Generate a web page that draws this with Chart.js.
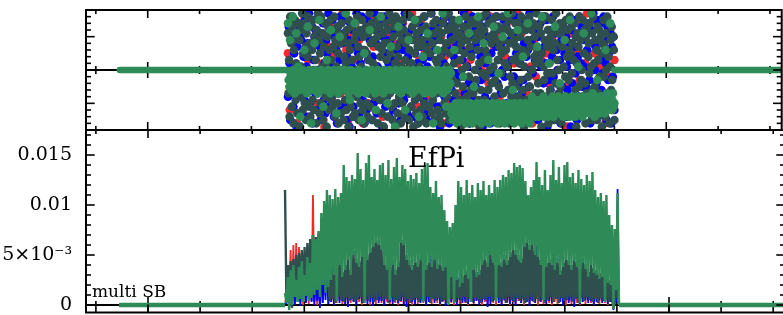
<!DOCTYPE html>
<html>
<head>
<meta charset="utf-8">
<script src="https://cdn.jsdelivr.net/npm/chart.js@4.4.0/dist/chart.umd.min.js"></script>
<style>
  html, body { margin: 0; padding: 0; background: #fff; overflow: hidden; width: 783px; height: 315px; }
  canvas { position: absolute; left: 0; top: 0; }
  .lbl { position: absolute; font-family: "DejaVu Serif", serif; color: #000; white-space: nowrap; line-height: 1; }
</style>
</head>
<body>
<canvas id="phase" width="786" height="315"></canvas>
<canvas id="power" width="786" height="315"></canvas>
<div class="lbl" style="left:408px;top:144px;font-size:27px">EfPi</div>
<div class="lbl" style="left:92px;top:283px;font-size:17px">multi SB</div>
<script>
// time axis (no labels drawn) and tick positions
var xMajorTicks = [1, 2, 3];
var xMinorTicks = [0.8, 1.2, 1.4, 1.6, 1.8, 2.2, 2.4, 2.6, 2.8, 3.2, 3.4];
var topMajorTicks = [-10, 0, 10];
var topMinorTicks = [-16, -14, -12, -8, -6, -4, -2, 2, 4, 6, 8, 12, 14, 16];
var bottomMajorTicks = [0, 50, 100, 150];
var bottomTickLabels = ["0", "5×10⁻³", "0.01", "0.015"];
var bottomMinorTicks = [10, 20, 30, 40, 60, 70, 80, 90, 110, 120, 130, 140, 160, 170];

// flat (idle) parts of the green trace, start/end times
var topFlatA = [0.8925, 1.541], topFlatB = [2.8, 3.5];
var botFlatA = [0.889, 1.526], botFlatB = [2.808, 3.5];
// span of the active samples
var topSpan = [1.541, 2.8];
var botSpan = [1.526, 2.808];

// top panel: phase, tenths
var topRed = [5,-12,14,-3,9,-16,1,11,-8,16,-5,3,-14,7,-1,12,-10,15,-6,2,
-17,8,-2,13,-9,4,-13,10,0,-7,17,-4,6,-15,11,-11,3,14,-6,9,
-1,-16,12,5,-10,15,-3,7,-12,1,16,-8,-14,4,10,-5,13,-2,8,-17,
6,-9,2,14,-13,11,-7,0,17,-4,9,-11,3,15,-15,5,-1,12,-8,7,
-6,13,-12,1,10,-16,4,16,-3,-10,8,-14,14,2,-7,11,-2,6,-13,17,
3,-5,15,-9,9,-17,0,12,-11,5,-4,16,-15,7,13,-1,-8,10,-12,4,
14,-6,-14,8,2,-10,17,-3,11,-13,6,-7,15,1,-16,9,-2,12,-9,3,
-11,16,5,-4,-15,10,-8,13,0,-12,7,14,-5,-17,4,11,-1,-9,15,6,
-3,9,-13,2,17,-7,12,-14,5,-10,14,1,-6,8,-16,10,-2,13,-11,3];

var topBlue = [-8,13,2,-15,10,-4,16,-11,5,-1,12,-17,7,-6,14,0,-13,9,-3,11,
4,-9,15,-14,1,8,-5,17,-10,6,-2,13,-16,3,10,-7,12,-12,0,16,
-4,7,-15,11,-1,14,-9,2,-13,9,5,-6,17,-11,-3,12,-8,15,1,-14,
10,-2,6,-16,13,-7,3,16,-12,8,-5,0,11,-10,15,-15,4,-3,9,-17,
14,-6,1,12,-11,7,-14,-1,17,-8,5,10,-13,2,-4,16,-9,6,-16,11,
0,-12,15,3,-7,9,-2,13,-15,4,-10,17,-5,8,-13,1,12,-6,14,-9,
7,-17,10,-3,16,-11,5,-8,12,2,-14,9,-1,15,-6,-12,3,11,-16,6,
-5,13,-10,1,8,-15,14,-4,6,-9,17,-2,10,-13,4,-7,16,0,-11,12,
9,-1,-14,5,15,-8,2,-16,11,-5,7,-12,13,3,-9,16,-3,8,-15,1,
-13,10,4,-6,17,-10,12,-2,-15,6,9,-4,14,-11,1,-17,11,5,-7,15,
2,-8,16,-12,7,-3,13,-16,0,10,-6,15,-9,4,12,-14,8,-1,-10,14,
-2,11,-15,6,3,-11,17,-7,9,-13,1,14,-4,-16,10,5,-8,16,-12,7,
12,-5,8,-14,0,15,-10,4,-3,13,-17,6,11,-8,2,-12,16,-6,9,-1,
-16,5,14,-9,10,-1,-13,7,16,-4,3,-15,12,-7,8,0,-11,15,-2,6,
13,-10,1,17,-6,9,-14,3,11,-12,-2,16,-8,5,-15,10,-4,14,2,-9,
-7,15,-3,8,-16,12,4,-11,6,-5,17,-13,0,9,-1,13,-10,3,-14,11,
5,-15,10,-8,14,1,-12,16,-4,7,-9,2,15,-17,8,-3,12,-6,-11,4,
16,-2,-9,11,-13,6,0,13,-7,3,-16,9,-5,14,-10,5,-14,10,1,-6,
-12,8,3,-17,12,-4,15,-10,7,-1,10,-15,4,-8,16,-11,2,13,-5,9,
1,-13,11,-5,6,-9,14,-3,-16,12,-7,8,17,-12,0,7,-4,15,-14,3,
-10,14,-6,4,-1,16,-11,9,2,-15,13,-3,5,-8,11,-16,7,-2,10,-12];

var topSlate = [11,-7,3,-14,16,-2,8,-11,13,0,-16,6,-5,15,-9,2,10,-13,-1,14,
-4,9,-17,12,1,-8,17,-12,5,-3,14,-10,7,-15,11,-6,4,16,-1,-11,
8,-14,13,-2,6,-9,15,0,-12,10,-5,3,-16,12,-7,17,-3,9,-13,5,
-10,16,-6,1,11,-15,7,-4,14,-8,2,-17,10,-1,13,-12,6,-5,15,-9,
3,12,-11,7,-3,16,-14,9,-7,1,13,-10,5,-16,11,-2,8,-13,14,0,
-6,10,-15,4,17,-9,2,-12,12,-4,8,-17,15,-1,6,-11,13,-7,3,-14,
14,-3,9,-13,0,11,-8,16,-5,7,-15,4,12,-10,1,-6,15,-12,10,-2,
-16,6,-1,13,-10,5,-14,11,3,-7,17,-11,8,-4,14,-15,2,9,-8,12,
1,-12,15,-5,10,-16,7,-2,13,-9,4,16,-13,6,-3,11,-17,8,-6,14,
-9,3,12,-14,8,-1,17,-7,5,-11,15,0,-15,10,-4,13,-10,2,16,-5,
7,-13,4,14,-8,11,-2,-16,9,1,-10,15,-6,12,-14,3,8,-12,17,-3,
-1,10,-15,6,-7,16,-11,2,13,-4,-17,9,5,-9,14,-13,11,-2,7,-16,
15,-8,1,-12,12,-5,9,-14,4,16,-10,7,-3,13,-16,6,0,-11,10,-6,
-11,5,17,-4,-13,8,-9,14,-1,11,-15,3,15,-7,2,-12,12,-3,-14,9,
4,-16,11,-6,14,-2,6,-10,16,-13,8,1,-8,12,-5,17,-15,5,-1,13,
-14,9,-3,15,-11,2,12,-7,-15,10,-4,14,-12,6,11,-9,3,-17,8,0,
10,-5,13,-15,5,-10,16,1,-8,9,-13,12,-2,-16,7,14,-6,4,-11,15,
-7,14,-12,0,9,-3,11,-14,6,15,-9,2,-17,13,-6,10,-1,16,-10,3,
12,-9,6,-2,17,-12,4,-6,14,-11,0,10,-14,8,-4,15,-13,1,11,-8,
-3,16,-10,9,-15,3,13,-5,7,-16,12,-1,5,-12,16,-7,9,-15,2,13,
6,-11,1,12,-6,15,-16,8,-2,11,-8,17,-4,3,-13,9,-10,14,-5,7,
-15,4,14,-8,2,-13,10,-3,16,-10,6,-6,13,-17,1,12,-9,5,15,-12,
9,-2,-11,16,-5,7,-15,12,0,-9,14,-14,4,10,-7,2,17,-11,6,-4,
-12,13,3,-7,11,-17,5,15,-10,1,-3,9,-13,16,-8,7,-1,12,-16,8,
2,-6,10,-13,15,-1,-9,6,12,-15,8,-4,17,-10,3,-14,11,0,-7,14,
-5,11,-16,7,-10,13,1,-12,9,-2,15,-8,4,-14,12,-3,6,16,-13,5,
13,-1,8,-9,3,-14,14,-6,10,-17,2,11,-11,7,-5,16,-12,9,-3,0,
-8,15,-13,5,12,-4,-16,10,-7,13,-12,4,8,-1,14,-10,1,-15,11,-6,
16,-10,2,-5,9,-12,6,-15,13,3,-7,12,-2,-13,10,5,-17,8,-9,15,
-2,7,-14,11,0,-8,16,-11,4,14,-16,1,9,-6,13,-3,-12,10,6,-15];

var topGreen = [14,-3,-5,9,-1,-6,-2,16,0,-4,-7,-2,11,-3,-5,1,-1,-6,-14,-3,
-2,-5,0,-4,6,-6,-1,-3,-7,13,-2,0,-5,-3,-16,-1,-4,-6,-2,8,
0,-3,-5,-1,-7,-4,15,-2,-6,0,-3,-5,-11,-1,-4,-2,-6,3,-3,0,
-5,-1,-7,12,-2,-4,-6,0,-3,-5,-1,-13,-4,-2,-7,0,10,-3,-6,-1,
-4,-2,-5,0,-3,17,-6,-1,-4,-7,-2,-9,0,-5,-3,-1,-6,-2,14,-4,
-1,-5,-3,-7,0,-2,-6,-4,-15,-1,-3,-5,5,-2,-7,0,-4,-6,-1,-3,
12,-5,-2,0,-4,-6,-1,-3,-7,-12,-2,-5,0,-4,-1,-6,16,-3,-5,-2,
-7,0,-4,-1,-6,-3,-10,-5,-2,0,-4,7,-6,-1,-3,-5,-2,-17,0,-4,
-6,-1,13,-3,-5,-2,-7,0,-4,-1,-6,-3,-12,-5,-2,0,-4,9,-6,-1,
-3,-5,-2,-7,0,-4,15,-1,-6,-3,-5,-2,-14,0,-4,-1,-6,-3,4,-5,
-2,-7,0,-4,-1,11,-6,-3,-5,-2,0,-4,-7,-16,-1,-3,-5,-6,-2,6,
0,-4,-1,-3,-6,-5,-2,17,-7,0,-4,-1,-11,-3,-6,-2,-5,0,-4,-1,
-13,-11,-15,-12,6,-14,-10,-13,-16,-11,-12,15,-14,-10,-13,-15,-11,-2,-12,-14,
-10,-16,-13,-11,-12,-15,11,-14,-10,-13,-11,-16,-12,-5,-14,-11,-13,-10,-15,16,
-12,-14,-11,-13,-16,-10,-12,8,-15,-13,-11,-14,-10,-12,3,-16,-13,-11,-14,-12,
-10,-15,13,-13,-11,-12,-14,-16,-10,-1,-13,-11,-15,-12,-14,10,-10,-13,-16,-11,
-12,-14,-11,17,-13,-10,-15,-12,-11,-14,-6,-13,-16,-10,-12,-11,-15,12,-13,-14,
-11,-10,-12,-16,-13,4,-14,-11,-15,-10,-12,-13,14,-11,-14,-16,-10,-12,-8,-13,
-11,-13,-9,-14,-12,-10,7,-12,-14,-9,-11,-13,-10,16,-12,-8,-14,-11,-9,-13,
-12,-10,-14,2,-11,-9,-13,-12,-8,-10,-14,-11,13,-9,-12,-13,-10,-8,-11,-4,
-10,-13,-9,-12,-14,-11,9,-8,-12,-10,-13,-9,-11,-14,15,-10,-12,-8,-13,-11,
-9,-11,-14,-10,-8,-12,1,-13,-9,-11,-10,-12,-14,-8,11,-9,-13,-11,-10,-12,
-8,-12,-10,-13,-9,17,-11,-7,-12,-10,-14,-8,-11,-9,-3,-12,-10,-13,-8,-11,
-10,-8,-12,-9,-11,-13,6,-10,-7,-12,-9,-11,-8,14,-10,-12,-9,-7,-11,-10];

// bottom panel: power, units of 1e-4
var sbRed = [5,2,30,0,55,3,60,1,62,4,58,2,50,0,45,3,48,1,52,4,
110,3,25,0,30,4,35,2,40,98,102,1,95,3,28,0,33,2,26,4,
30,1,24,3,35,0,28,2,33,4,27,1,38,3,25,0,31,2,36,4,
28,0,34,3,26,1,39,4,30,2,25,0,37,3,29,1,33,4,27,2,
35,0,28,3,31,1,26,4,38,2,30,0,27,3,34,1,29,4,36,2,
25,0,33,3,30,1,37,4,28,2,35,0,26,3,31,1,24,4,29,2,
27,0,32,3,25,1,36,4,29,2,33,0,28,3,35,1,26,4,31,2,
34,0,27,3,30,1,38,4,25,2,32,0,29,3,36,1,28,4,33,2,
26,0,31,3,37,1,29,4,33,2,27,0,35,3,30,1,38,4,28,2,
32,0,25,3,34,1,30,4,36,2,28,0,33,3,26,1,31,4,29,2,
35,0,27,3,32,1,29,4,37,2,26,0,34,3,30,1,28,4,33,2,
30,0,26,3,28,1,32,4,25,2,27,0,22,3,20,1,50,4,18,2];

var sbBlue = [3,1,18,-2,22,4,20,0,25,3,28,-1,30,5,24,2,26,6,20,3,
22,0,30,4,18,-3,35,2,28,5,33,1,25,3,38,0,30,6,27,2,
32,4,26,1,36,-2,29,5,40,3,31,0,34,6,27,2,39,4,30,1,
35,3,28,-1,42,5,33,2,25,4,37,0,30,6,41,3,28,1,36,5,
30,2,26,4,38,0,33,-2,29,6,35,3,40,1,27,5,34,2,31,4,
36,0,28,3,58,55,32,2,37,5,30,1,35,4,28,-1,33,6,26,3,
22,4,30,0,27,5,35,2,24,3,31,1,28,6,38,2,26,4,33,0,
30,3,37,5,28,-2,34,1,40,4,29,6,35,2,31,0,38,5,27,3,
33,1,29,4,42,0,36,6,30,2,35,5,28,3,39,-1,32,4,37,2,
60,52,31,3,36,5,28,1,34,4,40,2,57,48,33,6,29,3,35,0,
30,5,38,2,27,4,34,-2,31,6,36,1,29,3,33,5,26,2,32,4,
28,0,30,3,25,5,27,2,24,4,22,1,20,3,18,-5,15,2,116,0];

var sbSlate = [115,5,40,8,44,-3,46,10,50,6,52,12,55,4,58,9,62,14,66,8,
70,12,68,15,72,10,65,20,60,15,55,18,
4,30,6,35,2,28,8,45,5,33,
3,40,7,50,4,35,6,55,3,47,
5,43,8,53,2,35,6,50,4,57,
7,63,3,67,5,65,8,60,4,45,
6,40,2,33,7,45,3,35,5,43,
4,67,8,65,3,50,6,45,2,40,
5,47,7,43,3,50,6,45,4,40,
8,47,2,43,6,50,4,41,7,45,
3,39,5,43,2,35,6,33,
6,25,3,30,7,23,
4,27,8,35,2,31,6,25,3,40,7,33,5,35,
2,45,6,50,4,43,8,55,3,47,5,40,7,45,
4,43,6,50,2,45,8,53,5,60,3,55,7,50,4,47,
6,63,2,67,5,60,8,65,3,55,6,53,4,45,7,50,2,43,5,47,
8,45,3,40,6,47,2,35,7,43,4,50,
5,45,8,40,3,49,6,43,2,35,7,47,4,41,8,33,5,45,3,37,
6,35,2,31,7,33,4,29,5,27,
3,25,6,-3,2,20,
8,4];

var sbGreen = [12,2,28,-5,35,0,40,8,25,3,38,6,44,3,30,9,48,4,42,7,
70,10,66,15,74,8,92,20,104,12,115,18,
110,25,106,30,116,4,108,40,112,28,
140,35,128,45,124,30,130,50,126,42,
152,38,136,48,125,2,142,45,150,52,
128,58,136,62,125,60,140,55,142,40,
130,35,145,5,126,40,138,30,147,38,
128,62,140,60,136,45,124,40,130,35,
126,42,132,38,122,45,136,3,140,35,
142,42,118,38,112,45,124,36,108,40,
110,34,95,38,84,0,78,28,
82,2,100,25,124,18,
118,22,110,30,125,26,112,3,120,35,108,28,122,30,
115,40,124,45,110,38,120,50,112,42,125,4,118,40,
125,38,130,45,128,40,135,48,132,55,142,50,138,45,140,42,
137,58,124,62,110,55,118,60,125,50,143,48,128,40,120,5,135,38,115,42,
130,40,145,35,125,42,138,30,122,38,140,45,
143,40,128,35,132,44,122,38,135,2,126,42,120,36,130,28,124,40,133,32,
115,30,108,26,112,28,104,3,110,22,
90,20,80,-4,76,15,
112,0];

var RED = "#ee2a2a", BLUE = "#0000ff", SLATE = "#2f4f4f", GREEN = "#2e8b57";

function spread(values, span) {
  var step = (span[1] - span[0]) / (values.length - 1);
  return values.map(function (v, i) { return { x: span[0] + i * step, y: v }; });
}
function flat(span) {
  return [{ x: span[0], y: 0 }, { x: span[1], y: 0 }];
}
function seg(ctx, x1, y1, x2, y2) {
  ctx.beginPath(); ctx.moveTo(x1, y1); ctx.lineTo(x2, y2); ctx.stroke();
}

// frame with inside ticks on all sides, plus the zero axis under the data
function framePlugin(yMajor, yMinor) {
  return {
    id: "frame",
    beforeDatasetsDraw: function (chart) {
      var ctx = chart.ctx, a = chart.chartArea, xs = chart.scales.x;
      var y0 = chart.scales.y.getPixelForValue(0);
      ctx.save();
      ctx.strokeStyle = "#000";
      ctx.lineWidth = 2;
      seg(ctx, a.left, y0, a.right, y0);
      ctx.lineWidth = 1.6;
      xMinorTicks.forEach(function (v) { var p = xs.getPixelForValue(v); seg(ctx, p, y0 - 4, p, y0 + 4); });
      xMajorTicks.forEach(function (v) { var p = xs.getPixelForValue(v); seg(ctx, p, y0 - 8, p, y0 + 8); });
      ctx.restore();
    },
    afterDraw: function (chart) {
      var ctx = chart.ctx, a = chart.chartArea, xs = chart.scales.x, ys = chart.scales.y;
      ctx.save();
      ctx.strokeStyle = "#000";
      ctx.lineWidth = 1.6;
      xMinorTicks.forEach(function (v) {
        var p = xs.getPixelForValue(v);
        seg(ctx, p, a.top, p, a.top + 4); seg(ctx, p, a.bottom, p, a.bottom - 4);
      });
      xMajorTicks.forEach(function (v) {
        var p = xs.getPixelForValue(v);
        seg(ctx, p, a.top, p, a.top + 8); seg(ctx, p, a.bottom, p, a.bottom - 8);
      });
      yMinor.forEach(function (v) {
        var p = ys.getPixelForValue(v);
        seg(ctx, a.left, p, a.left + 5, p); seg(ctx, a.right, p, a.right - 5, p);
      });
      yMajor.forEach(function (v) {
        var p = ys.getPixelForValue(v);
        seg(ctx, a.left, p, a.left + 8.7, p); seg(ctx, a.right, p, a.right - 8.7, p);
      });
      ctx.lineWidth = 2;
      ctx.strokeRect(a.left, a.top, a.right - a.left, a.bottom - a.top);
      ctx.restore();
    }
  };
}

var xScale = { type: "linear", display: false, min: 0.762, max: 3.4453 };

function dots(values, span, color) {
  return {
    data: spread(values, span), showLine: false,
    pointRadius: 4.3, pointBorderWidth: 0,
    backgroundColor: color, pointBackgroundColor: color, borderColor: color
  };
}
function trace(data, color, width, cap) {
  return {
    data: data, showLine: true, pointRadius: 0,
    borderColor: color, borderWidth: width,
    borderCapStyle: cap || "butt", borderJoinStyle: "bevel"
  };
}

new Chart(document.getElementById("phase"), {
  type: "scatter",
  data: {
    datasets: [
      trace(flat(topFlatA), GREEN, 6.5, "round"),
      trace(flat(topFlatB), GREEN, 6.5, "round"),
      dots(topGreen, topSpan, GREEN),
      dots(topSlate, topSpan, SLATE),
      dots(topBlue, topSpan, BLUE),
      dots(topRed, topSpan, RED)
    ]
  },
  options: {
    responsive: false, animation: false, events: [],
    layout: { padding: { left: 86, right: 1, top: 10, bottom: 185 } },
    scales: { x: xScale, y: { display: false, min: -18, max: 18 } },
    plugins: { legend: { display: false }, tooltip: { enabled: false } }
  },
  plugins: [framePlugin(topMajorTicks, topMinorTicks)]
});

new Chart(document.getElementById("power"), {
  type: "scatter",
  data: {
    datasets: [
      trace(flat(botFlatA), GREEN, 4.5),
      trace(flat(botFlatB), GREEN, 4.5),
      trace(spread(sbGreen, botSpan), GREEN, 2.4),
      trace(spread(sbSlate, botSpan), SLATE, 2.4),
      trace(spread(sbBlue, botSpan), BLUE, 1.8),
      trace(spread(sbRed, botSpan), RED, 1.8)
    ]
  },
  options: {
    responsive: false, animation: false, events: [],
    layout: { padding: { left: 0, right: 1, top: 130, bottom: 2.5 } },
    scales: {
      x: xScale,
      y: {
        min: -7.5, max: 175,
        grid: { display: false, drawTicks: false }, border: { display: false },
        afterBuildTicks: function (scale) {
          scale.ticks = bottomMajorTicks.map(function (v) { return { value: v }; });
        },
        afterFit: function (scale) {
          scale.width = 86;
          scale.paddingTop = 0;
          scale.paddingBottom = 0;
        },
        ticks: {
          autoSkip: false, padding: 14, color: "#000",
          font: { family: "DejaVu Serif", size: 19 },
          callback: function (value, index) { return bottomTickLabels[index]; }
        }
      }
    },
    plugins: { legend: { display: false }, tooltip: { enabled: false } }
  },
  plugins: [framePlugin(bottomMajorTicks, bottomMinorTicks)]
});
</script>
</body>
</html>
